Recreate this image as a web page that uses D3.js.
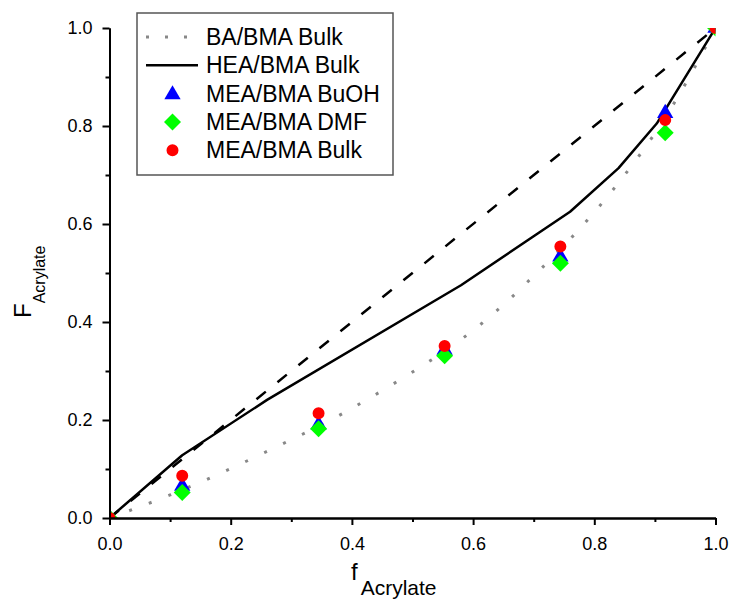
<!DOCTYPE html>
<html>
<head>
<meta charset="utf-8">
<script src="https://cdn.jsdelivr.net/npm/d3@7"></script>
<style>
  html, body { margin: 0; padding: 0; background: #fff; }
  svg { display: block; font-family: "Liberation Sans", Arial, sans-serif; }
</style>
</head>
<body>
<svg id="chart" width="732" height="602"></svg>
<script>
// ---- data ----
const xTicks = [0, 0.2, 0.4, 0.6, 0.8, 1.0];
const yTicks = [0, 0.2, 0.4, 0.6, 0.8, 1.0];
const minorTicks = [0.1, 0.3, 0.5, 0.7, 0.9];

// BA/BMA Bulk model curve (dotted grey)
const baF = [0, 0.05, 0.1, 0.15, 0.2, 0.25, 0.3, 0.35, 0.4, 0.45, 0.5, 0.55, 0.6, 0.65, 0.7, 0.75, 0.8, 0.85, 0.9, 0.95, 1.0];
const baY = [0, 0.023, 0.047, 0.073, 0.101, 0.13, 0.16, 0.19, 0.224, 0.26, 0.298, 0.338, 0.383, 0.435, 0.494, 0.556, 0.624, 0.700, 0.785, 0.885, 1.0];

// HEA/BMA Bulk (solid black)
const heaF = [0, 0.12, 0.26, 0.58, 0.76, 0.84, 0.903, 1.0];
const heaY = [0, 0.128, 0.241, 0.475, 0.625, 0.714, 0.805, 1.0];

// Ideal (dashed diagonal)
const idealF = [0, 1];
const idealY = [0, 1];

// MEA/BMA experimental points
const meaF = [0, 0.12, 0.345, 0.553, 0.744, 0.917, 1.0];
const buohY = [0, 0.065, 0.19, 0.343, 0.533, 0.826, 1.0];
const dmfY = [0, 0.052, 0.182, 0.331, 0.52, 0.786, 1.0];
const bulkY = [0, 0.086, 0.214, 0.351, 0.554, 0.812, 1.0];

const legendLabels = ["BA/BMA Bulk", "HEA/BMA Bulk", "MEA/BMA BuOH", "MEA/BMA DMF", "MEA/BMA Bulk"];

// ---- drawing ----
const svg = d3.select("#chart");
const x = d3.scaleLinear().domain([0, 1]).range([109.5, 715.5]);
const y = d3.scaleLinear().domain([0, 1]).range([518, 28]);

svg.append("defs").append("clipPath").attr("id", "plotclip")
  .append("rect").attr("x", x(0)).attr("y", y(1))
  .attr("width", x(1) - x(0)).attr("height", y(0) - y(1));

const zip = (a, b) => a.map((v, i) => [v, b[i]]);
const line = d3.line().x(d => x(d[0])).y(d => y(d[1]));
const plot = svg.append("g").attr("clip-path", "url(#plotclip)");

plot.append("path").datum(zip(idealF, idealY)).attr("d", line)
  .attr("fill", "none").attr("stroke", "#000").attr("stroke-width", 2.5)
  .attr("stroke-dasharray", "12,15");

plot.append("path").datum(zip(baF, baY)).attr("d", line.curve(d3.curveMonotoneX))
  .attr("fill", "none").attr("stroke", "#888").attr("stroke-width", 3)
  .attr("stroke-dasharray", "3,18");

line.curve(d3.curveLinear);
plot.append("path").datum(zip(heaF, heaY)).attr("d", line)
  .attr("fill", "none").attr("stroke", "#000").attr("stroke-width", 2.5)
  .attr("stroke-linejoin", "round");

const triSym = d3.symbol().type(d3.symbolTriangle).size(115);
const diaSym = d3.symbol().type(d3.symbolSquare).size(144);
const cirSym = d3.symbol().type(d3.symbolCircle).size(113);

plot.selectAll(".tri").data(zip(meaF, buohY)).join("path")
  .attr("d", triSym()).attr("fill", "#0000ff")
  .attr("transform", d => `translate(${x(d[0])},${y(d[1])})`);
plot.selectAll(".dia").data(zip(meaF, dmfY)).join("path")
  .attr("d", diaSym()).attr("fill", "#00ff00")
  .attr("transform", d => `translate(${x(d[0])},${y(d[1])}) rotate(45)`);
plot.selectAll(".cir").data(zip(meaF, bulkY)).join("path")
  .attr("d", cirSym()).attr("fill", "#ff0000")
  .attr("transform", d => `translate(${x(d[0])},${y(d[1])})`);

// axes
const fmt = d3.format(".1f");
function styleAxis(g) {
  g.select(".domain").attr("stroke-width", 2);
  g.selectAll(".tick line").attr("stroke-width", 2);
  g.selectAll("text").attr("font-size", 18).attr("fill", "#000")
    .attr("font-family", "'Liberation Sans', Arial, sans-serif");
}
svg.append("g").attr("transform", `translate(0,${y(0)})`)
  .call(d3.axisBottom(x).tickValues(minorTicks).tickSize(4).tickSizeOuter(0).tickFormat(""))
  .call(styleAxis);
svg.append("g").attr("transform", `translate(0,${y(0)})`)
  .call(d3.axisBottom(x).tickValues(xTicks).tickSize(7).tickSizeOuter(0).tickPadding(12).tickFormat(fmt))
  .call(styleAxis);
svg.append("g").attr("transform", `translate(${x(0)},0)`)
  .call(d3.axisLeft(y).tickValues(minorTicks).tickSize(4).tickSizeOuter(0).tickFormat(""))
  .call(styleAxis);
svg.append("g").attr("transform", `translate(${x(0)},0)`)
  .call(d3.axisLeft(y).tickValues(yTicks).tickSize(7).tickSizeOuter(0).tickPadding(10).tickFormat(fmt))
  .call(styleAxis);

// axis titles
const xt = svg.append("text").attr("x", 351).attr("y", 580).attr("fill", "#000");
xt.append("tspan").attr("font-size", 24).text("f");
xt.append("tspan").attr("font-size", 21).attr("dx", 3).attr("dy", 15).text("Acrylate");

const yt = svg.append("text").attr("transform", "translate(31,318) rotate(-90)").attr("fill", "#000");
yt.append("tspan").attr("font-size", 24).text("F");
yt.append("tspan").attr("font-size", 16).attr("dy", 14).text("Acrylate");

// legend
const lg = svg.append("g");
lg.append("rect").attr("x", 137).attr("y", 13).attr("width", 256).attr("height", 162)
  .attr("fill", "#fff").attr("stroke", "#555").attr("stroke-width", 1.5);
const rowY = i => 37 + i * 28.3;
lg.append("line").attr("x1", 146).attr("x2", 199).attr("y1", rowY(0)).attr("y2", rowY(0))
  .attr("stroke", "#888").attr("stroke-width", 3).attr("stroke-dasharray", "3,16");
lg.append("line").attr("x1", 146).attr("x2", 198).attr("y1", rowY(1)).attr("y2", rowY(1))
  .attr("stroke", "#000").attr("stroke-width", 2.5);
lg.append("path").attr("d", triSym()).attr("fill", "#0000ff")
  .attr("transform", `translate(172.5,${rowY(2) + 1})`);
lg.append("path").attr("d", diaSym()).attr("fill", "#00ff00")
  .attr("transform", `translate(172.5,${rowY(3)}) rotate(45)`);
lg.append("path").attr("d", cirSym()).attr("fill", "#ff0000")
  .attr("transform", `translate(172.5,${rowY(4)})`);
lg.selectAll("text.lab").data(legendLabels).join("text")
  .attr("class", "lab").attr("x", 206).attr("y", (d, i) => rowY(i) + 8)
  .attr("font-size", 23).attr("fill", "#000").text(d => d);
</script>
</body>
</html>
